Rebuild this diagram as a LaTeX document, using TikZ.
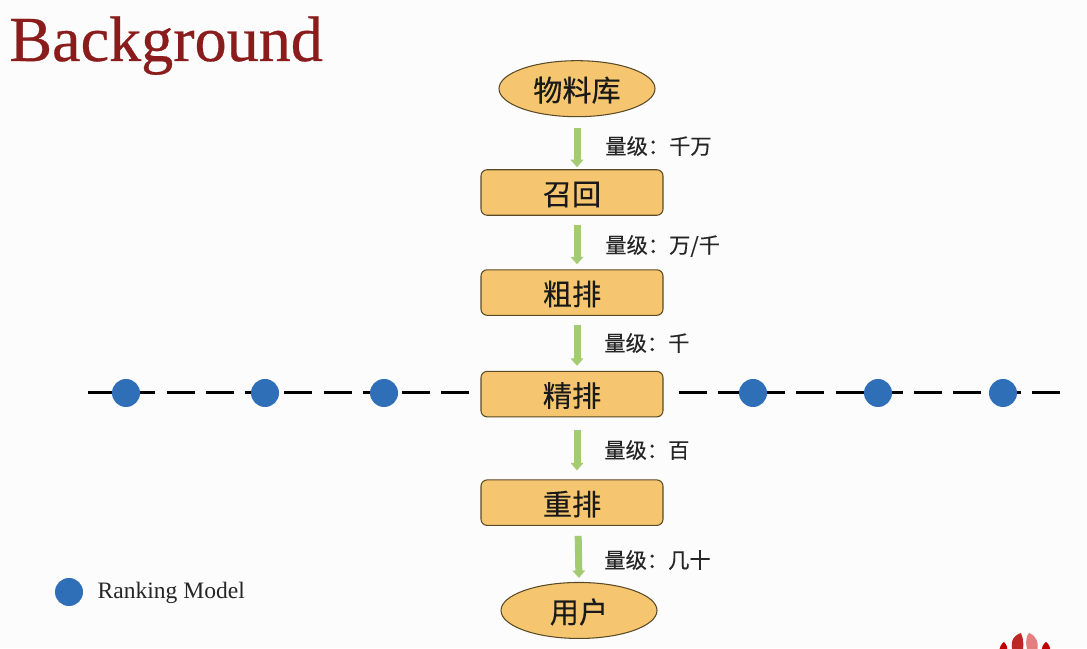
\documentclass[tikz,border=0pt]{standalone}
\usepackage{fontspec}
\setmainfont{Liberation Serif}
\newfontfamily\cjk[FakeBold=.25]{Noto Sans CJK SC}
\newfontfamily\titlefont[FakeBold=.5]{Liberation Serif}
\usetikzlibrary{arrows.meta,positioning,shapes.geometric}
\definecolor{boxfill}{HTML}{F5C66F}
\definecolor{boxline}{HTML}{5A4A25}
\definecolor{flowgreen}{HTML}{A3CB74}
\definecolor{dotblue}{HTML}{2F6FB7}
\definecolor{titlered}{HTML}{8A1C1C}
\definecolor{paper}{HTML}{FCFCFC}
\tikzset{
  block/.style={draw=boxline, fill=boxfill, rounded corners=3.5pt, line width=.6pt,
    minimum width=3.64cm, minimum height=.91cm, inner sep=0pt, text height=.53cm, text depth=.03cm,
    font=\cjk\fontsize{16.6}{20}\selectfont, text=black!90},
  terminal/.style={block, ellipse, minimum width=3.12cm, minimum height=1.12cm},
  arr/.style={-{Triangle[length=1.5mm, width=2.5mm]}, line width=1.4mm, flowgreen},
  scale lbl/.style={inner sep=0pt, font=\cjk\fontsize{12.1}{14}\selectfont, text=black!85},
  dot/.style={circle, fill=dotblue, minimum size=.56cm, inner sep=0pt},
  rule/.style={line width=.6mm, dash pattern=on .56cm off .225cm}
}
\begin{document}
\begin{tikzpicture}
  \useasboundingbox[fill=paper] (0,0) rectangle (21.74,12.96);
  \node[anchor=base west, inner sep=0pt, text=titlered, font=\titlefont\fontsize{36.5}{40}\selectfont] (title) at (.18,11.74) {Background};

  \node[block] (recall) at (11.44,9.11) {召回};
  \node[terminal, above=1.04cm of recall, xshift=.1cm] (pool) {物料库};
  \node[block, below=1.07cm of recall] (coarse) {粗排};
  \node[block, below=1.1cm of coarse] (fine) {精排};
  \node[block, below=1.24cm of fine] (rerank) {重排};
  \node[terminal, below=1.12cm of rerank, xshift=.14cm] (user) {用户};

  % dashed rule through the fine ranking box
  \coordinate (ruleL) at (1.76,5.1);
  \coordinate (ruleR) at (21.2,5.1);
  \draw[rule, shorten >=.22cm] (ruleL) -- (ruleL -| fine.west);
  \draw[rule, shorten <=.3cm] (ruleR -| fine.east) -- (ruleR);
  \foreach \name/\x in {a/2.52,b/5.3,c/7.68,d/15.06,e/17.56,f/20.06}
    \node[dot] (dot\name) at (\x,5.1) {};

  \draw[arr, shorten <=.22cm, shorten >=.04cm] (pool.south) -- (pool.south |- recall.north);
  \draw[arr, shorten <=.18cm, shorten >=.1cm] ([xshift=.1cm]recall.south) -- ([xshift=.1cm]coarse.north);
  \draw[arr, shorten <=.18cm, shorten >=.1cm] ([xshift=.1cm]coarse.south) -- ([xshift=.1cm]fine.north);
  \draw[arr, shorten <=.26cm, shorten >=.18cm] ([xshift=.1cm]fine.south) -- ([xshift=.1cm]rerank.north);
  \draw[arr, shorten <=.2cm, shorten >=.08cm] ([xshift=.12cm]rerank.south) -- (user.north);

  \node[scale lbl, anchor=west] (lblA) at (12.1,10.04) {量级：千万};
  \node[scale lbl, anchor=west] (lblB) at (12.1,8.04) {量级：万/千};
  \node[scale lbl, anchor=west] (lblC) at (12.08,6.1) {量级：千};
  \node[scale lbl, anchor=west] (lblD) at (12.08,3.96) {量级：百};
  \node[scale lbl, anchor=west] (lblE) at (12.08,1.76) {量级：几十};

  \node[dot] (legend) at (1.38,1.12) {};
  \node[right=.28cm of legend, inner sep=0pt, yshift=-.02cm, font=\fontsize{13.4}{16}\selectfont, text=black!85] (legendtext) {Ranking Model};

  % logo at the lower edge
  \begin{scope}
    \clip (19,0) rectangle (21.74,1);
    \fill[red!75!black] (19.98,-.1) .. controls (19.98,.02) and (20.04,.1) .. (20.08,.12) .. controls (20.14,.06) and (20.16,0) .. (20.14,-.1) -- cycle;
    \fill[red!70!black!85] (20.26,-.1) .. controls (20.2,.1) and (20.24,.24) .. (20.42,.3) .. controls (20.48,.16) and (20.48,0) .. (20.44,-.1) -- cycle;
    \fill[red!45!white!90!black] (20.56,-.1) .. controls (20.5,.1) and (20.52,.24) .. (20.58,.3) .. controls (20.74,.24) and (20.78,.1) .. (20.74,-.1) -- cycle;
    \fill[red!75!black] (20.84,-.1) .. controls (20.82,0) and (20.86,.08) .. (20.92,.12) .. controls (20.98,.08) and (21.02,0) .. (21,-.1) -- cycle;
  \end{scope}
\end{tikzpicture}
\end{document}
